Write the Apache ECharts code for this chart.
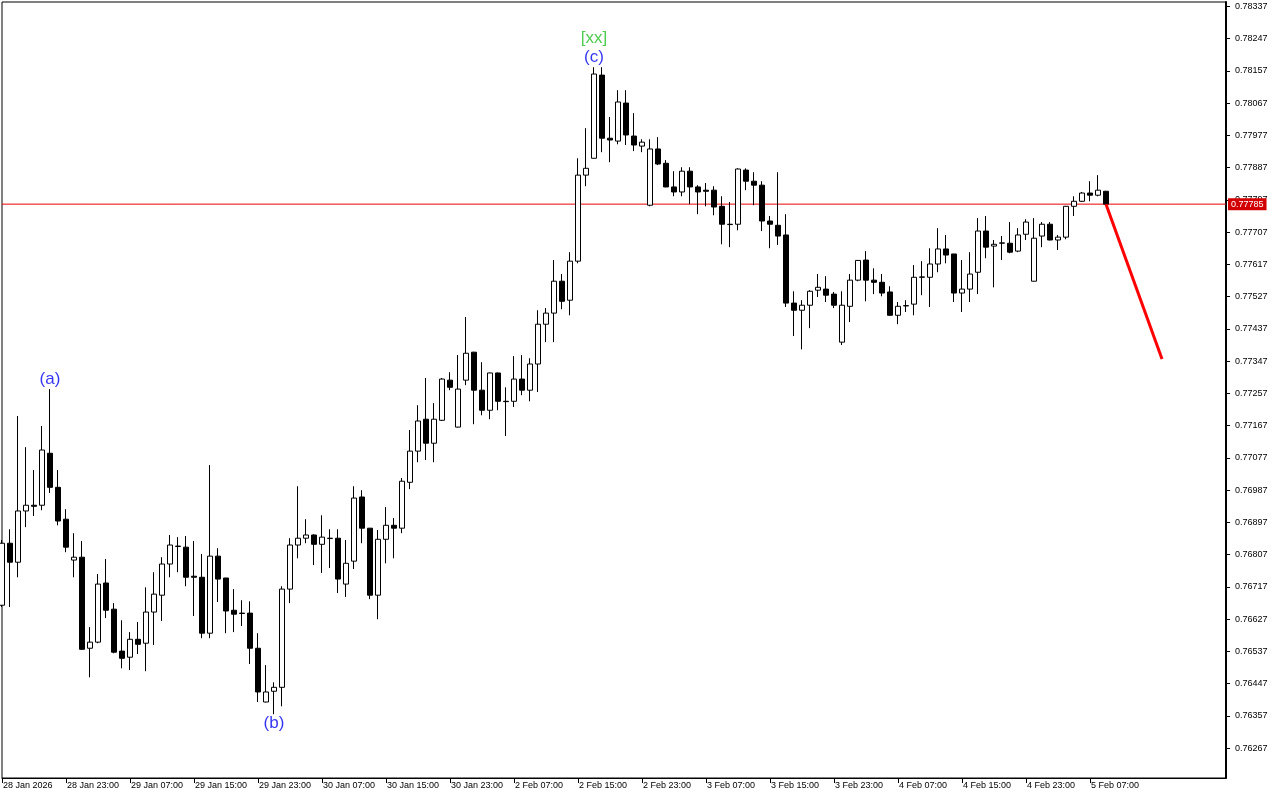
<!DOCTYPE html>
<html>
<head>
<meta charset="utf-8">
<script src="https://cdn.jsdelivr.net/npm/echarts@6/dist/echarts.min.js"></script>
<style>
html,body{margin:0;padding:0;background:#fff;}
#chart{width:1280px;height:800px;}
</style>
</head>
<body>
<div id="chart"></div>
<script>
// Hourly bars, 28 Jan 2026 15:00 -> 5 Feb 2026 09:00
const opens = [0.76666,0.76839,0.76786,0.76929,0.76945,0.76945,0.77090,0.76995,0.76906,0.76792,
0.76800,0.76546,0.76563,0.76728,0.76655,0.76538,0.76521,0.76571,0.76560,0.76647,
0.76694,0.76781,0.76831,0.76828,0.76747,0.76744,0.76588,0.76803,0.76742,0.76652,
0.76644,0.76644,0.76546,0.76396,0.76426,0.76437,0.76711,0.76834,0.76853,0.76862,
0.76836,0.76853,0.76853,0.76725,0.76789,0.76968,0.76881,0.76694,0.76850,0.76889,
0.76881,0.77009,0.77096,0.77185,0.77118,0.77182,0.77294,0.77163,0.77294,0.77372,
0.77266,0.77210,0.77314,0.77235,0.77235,0.77297,0.77266,0.77339,0.77450,0.77481,
0.77570,0.77517,0.77626,0.77866,0.77913,0.78145,0.77969,0.77961,0.78067,0.77975,
0.77947,0.77782,0.77939,0.77899,0.77833,0.77819,0.77877,0.77833,0.77824,0.77824,
0.77779,0.77729,0.77729,0.77880,0.77849,0.77838,0.77738,0.77726,0.77699,0.77509,
0.77489,0.77503,0.77545,0.77548,0.77534,0.77400,0.77500,0.77573,0.77629,0.77573,
0.77567,0.77540,0.77475,0.77501,0.77506,0.77581,0.77581,0.77618,0.77660,0.77646,
0.77537,0.77548,0.77595,0.77710,0.77668,0.77676,0.77676,0.77654,0.77701,0.77570,
0.77696,0.77729,0.77685,0.77693,0.77779,0.77793,0.77816,0.77810,0.77821];
const highs = [0.76848,0.76878,0.77194,0.77107,0.77043,0.77166,0.77269,0.77043,0.76934,0.76867,
0.76845,0.76605,0.76753,0.76795,0.76672,0.76624,0.76591,0.76619,0.76716,0.76758,
0.76800,0.76862,0.76856,0.76859,0.76845,0.76809,0.77057,0.76825,0.76742,0.76711,
0.76680,0.76677,0.76588,0.76499,0.76451,0.76719,0.76853,0.76998,0.76906,0.76864,
0.76917,0.76878,0.76878,0.76848,0.76998,0.76987,0.76881,0.76876,0.76940,0.76909,
0.77021,0.77155,0.77224,0.77300,0.77230,0.77300,0.77316,0.77364,0.77470,0.77373,
0.77344,0.77315,0.77315,0.77274,0.77361,0.77364,0.77355,0.77489,0.77495,0.77629,
0.77590,0.77651,0.77913,0.77997,0.78167,0.78167,0.78028,0.78103,0.78103,0.78039,
0.77966,0.77966,0.77972,0.77908,0.77877,0.77888,0.77888,0.77838,0.77844,0.77835,
0.77807,0.77791,0.77885,0.77885,0.77874,0.77849,0.77752,0.77874,0.77757,0.77542,
0.77517,0.77545,0.77590,0.77584,0.77540,0.77542,0.77590,0.77629,0.77654,0.77606,
0.77590,0.77556,0.77512,0.77517,0.77615,0.77626,0.77662,0.77718,0.77699,0.77646,
0.77629,0.77651,0.77746,0.77752,0.77685,0.77696,0.77735,0.77718,0.77743,0.77746,
0.77735,0.77735,0.77699,0.77780,0.77807,0.77819,0.77849,0.77866,0.77822];
const lows = [0.76661,0.76661,0.76744,0.76884,0.76915,0.76931,0.76979,0.76889,0.76814,0.76744,
0.76541,0.76465,0.76560,0.76630,0.76532,0.76490,0.76485,0.76530,0.76482,0.76555,
0.76622,0.76744,0.76758,0.76719,0.76636,0.76574,0.76574,0.76675,0.76588,0.76591,
0.76608,0.76502,0.76396,0.76395,0.76362,0.76384,0.76672,0.76797,0.76839,0.76778,
0.76756,0.76770,0.76700,0.76689,0.76767,0.76839,0.76683,0.76627,0.76783,0.76797,
0.76867,0.76990,0.77065,0.77071,0.77065,0.77180,0.77266,0.77162,0.77280,0.77171,
0.77196,0.77185,0.77210,0.77138,0.77219,0.77252,0.77235,0.77261,0.77400,0.77400,
0.77492,0.77475,0.77620,0.77835,0.77912,0.77930,0.77902,0.77952,0.77950,0.77933,
0.77930,0.77779,0.77894,0.77832,0.77807,0.77807,0.77785,0.77757,0.77779,0.77754,
0.77673,0.77665,0.77712,0.77824,0.77782,0.77710,0.77662,0.77671,0.77498,0.77417,
0.77380,0.77439,0.77526,0.77512,0.77495,0.77392,0.77456,0.77570,0.77514,0.77534,
0.77528,0.77473,0.77450,0.77484,0.77475,0.77531,0.77498,0.77595,0.77620,0.77512,
0.77484,0.77512,0.77534,0.77634,0.77553,0.77629,0.77648,0.77651,0.77685,0.77569,
0.77665,0.77684,0.77657,0.77687,0.77752,0.77791,0.77793,0.77807,0.77785];
const closes = [0.76839,0.76786,0.76929,0.76945,0.76942,0.77099,0.76995,0.76901,0.76828,0.76800,
0.76543,0.76563,0.76725,0.76652,0.76535,0.76518,0.76571,0.76557,0.76647,0.76697,
0.76781,0.76834,0.76830,0.76744,0.76744,0.76588,0.76803,0.76739,0.76650,0.76641,
0.76643,0.76546,0.76424,0.76424,0.76437,0.76711,0.76834,0.76853,0.76862,0.76836,
0.76856,0.76852,0.76739,0.76783,0.76965,0.76881,0.76694,0.76850,0.76889,0.76881,
0.77012,0.77096,0.77180,0.77118,0.77185,0.77297,0.77274,0.77269,0.77369,0.77266,
0.77210,0.77314,0.77235,0.77234,0.77297,0.77266,0.77339,0.77450,0.77481,0.77570,
0.77514,0.77626,0.77866,0.77885,0.78148,0.77969,0.77964,0.78070,0.77978,0.77950,
0.77958,0.77939,0.77897,0.77833,0.77819,0.77877,0.77833,0.77819,0.77821,0.77777,
0.77729,0.77728,0.77883,0.77849,0.77838,0.77738,0.77729,0.77696,0.77509,0.77489,
0.77503,0.77542,0.77553,0.77531,0.77503,0.77503,0.77573,0.77628,0.77573,0.77567,
0.77537,0.77475,0.77500,0.77502,0.77581,0.77582,0.77618,0.77660,0.77643,0.77537,
0.77548,0.77590,0.77710,0.77665,0.77673,0.77677,0.77651,0.77699,0.77735,0.77690,
0.77729,0.77685,0.77693,0.77779,0.77793,0.77816,0.77810,0.77824,0.77785];

// Time axis tick labels (every 8 bars)
const xTickLabels = ["28 Jan 2026","28 Jan 23:00","29 Jan 07:00","29 Jan 15:00","29 Jan 23:00",
"30 Jan 07:00","30 Jan 15:00","30 Jan 23:00","2 Feb 07:00","2 Feb 15:00","2 Feb 23:00",
"3 Feb 07:00","3 Feb 15:00","3 Feb 23:00","4 Feb 07:00","4 Feb 15:00","4 Feb 23:00","5 Feb 07:00"];
const xTickStep = 8;
const totalSlots = 154; // bars + empty space on the right

// Price axis tick labels
const yTickValues = [0.78337,0.78247,0.78157,0.78067,0.77977,0.77887,0.77797,0.77707,0.77617,0.77527,
0.77437,0.77347,0.77257,0.77167,0.77077,0.76987,0.76897,0.76807,0.76717,0.76627,0.76537,0.76447,0.76357,0.76267];
const yMin = 0.76184, yMax = 0.78349;

// Current bid
const bidPrice = 0.77785;

// Forecast line (bar index, price)
const forecastIdx = [138, 145];
const forecastPrice = [0.77785, 0.77353];

// Wave labels
const waveTexts = ["(a)", "(b)", "(c)", "[xx]"];
const waveIdx = [6, 34, 74, 74];
const wavePrice = [0.77269, 0.76362, 0.78167, 0.78167];

const cats = [];
for (let i = 0; i < totalSlots; i++) {
  cats.push(i % xTickStep === 0 && (i / xTickStep) < xTickLabels.length ? xTickLabels[i / xTickStep] : '');
}
const candles = opens.map((o, i) => [o, closes[i], lows[i], highs[i]]);
const tickShow = (i) => i % xTickStep === 0 && (i / xTickStep) < xTickLabels.length;

const waveStyles = [
  {position: 'top', distance: 1, color: '#0000f0'},
  {position: 'bottom', distance: 1, color: '#0000f0'},
  {position: 'top', distance: 1, color: '#0000f0'},
  {position: 'top', distance: 20, color: '#22c022'}
];

const font = 'Liberation Sans, Arial, sans-serif';
const chart = echarts.init(document.getElementById('chart'));
chart.setOption({
  animation: false,
  backgroundColor: '#ffffff',
  grid: {left: 2, right: 54, top: 2, bottom: 22, show: true, borderColor: '#000', borderWidth: 1, backgroundColor: '#fff'},
  xAxis: {
    type: 'category', data: cats, boundaryGap: false,
    axisLine: {show: true, lineStyle: {color: '#000', width: 1}},
    axisTick: {show: true, interval: tickShow, length: 5, lineStyle: {color: '#000'}},
    axisLabel: {interval: tickShow, align: 'left', margin: 3, fontSize: 9, color: '#000', fontFamily: font, padding: [0,0,0,1]},
    splitLine: {show: false}
  },
  yAxis: {
    type: 'value', position: 'right', min: yMin, max: yMax, scale: true,
    axisLine: {show: true, lineStyle: {color: '#000', width: 2}},
    axisTick: {show: true, length: 4, customValues: yTickValues, lineStyle: {color: '#000'}},
    axisLabel: {customValues: yTickValues, fontSize: 9, color: '#000', fontFamily: font, margin: 9,
      formatter: v => v.toFixed(5)},
    splitLine: {show: false}
  },
  series: [
    {
      type: 'line', data: [[0, bidPrice], [totalSlots - 1, bidPrice]],
      symbol: 'none', silent: true, z: 1, clip: false,
      lineStyle: {color: '#ee0000', width: 1},
      endLabel: {show: true, distance: 2, formatter: bidPrice.toFixed(5), color: '#fff',
        backgroundColor: '#d20000', padding: [2, 3, 1, 3], fontSize: 9, fontFamily: font}
    },
    {
      type: 'candlestick', data: candles, barWidth: 5, z: 3,
      itemStyle: {color: '#ffffff', color0: '#000000', borderColor: '#000000', borderColor0: '#000000', borderWidth: 1}
    },
    {
      type: 'line', data: forecastIdx.map((x, i) => [x, forecastPrice[i]]),
      symbol: 'none', lineStyle: {color: '#ff0000', width: 3}, z: 5
    },
    {
      type: 'scatter', symbolSize: 0, z: 6,
      data: waveTexts.map((t, i) => ({
        value: [waveIdx[i], wavePrice[i]], name: t,
        label: {show: true, formatter: t, position: waveStyles[i].position, distance: waveStyles[i].distance,
          color: waveStyles[i].color, fontSize: 17, fontFamily: font}
      }))
    }
  ]
});
</script>
</body>
</html>
